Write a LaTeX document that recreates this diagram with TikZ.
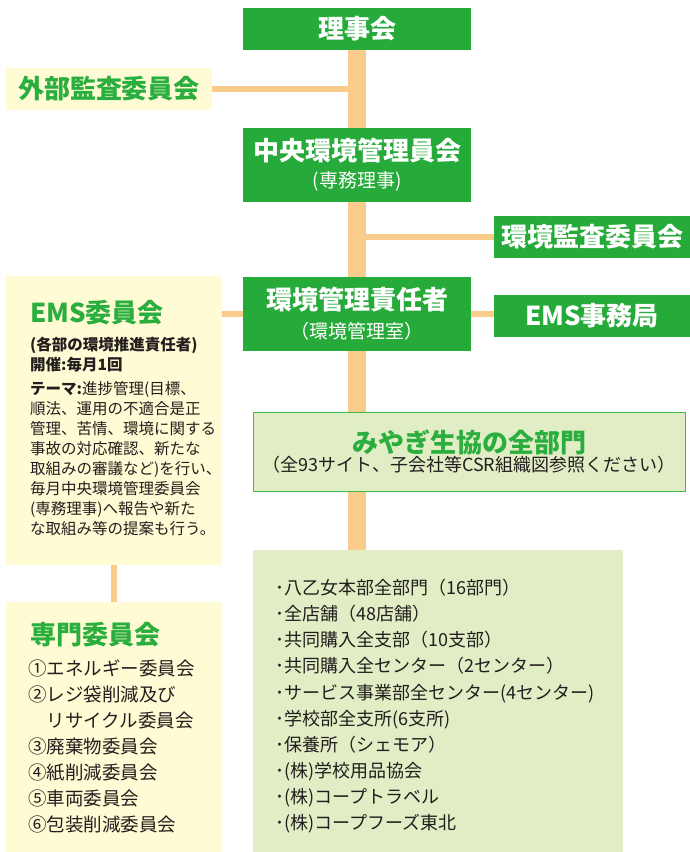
\documentclass[tikz,border=0pt]{standalone}
\usepackage{fontspec}
\setmainfont{Noto Sans CJK JP}
\usepackage{tikz}
\usetikzlibrary{positioning}
\definecolor{boxgreen}{RGB}{38,170,58}
\definecolor{titlegreen}{RGB}{42,174,62}
\definecolor{framegreen}{RGB}{70,185,80}
\definecolor{cream}{RGB}{255,251,212}
\definecolor{palegreen}{RGB}{225,237,197}
\definecolor{linkorange}{RGB}{250,204,140}
\definecolor{inkgray}{RGB}{35,30,30}

\begin{document}
\begin{tikzpicture}[x=1pt,y=-1pt,
        greenbox/.style={fill=boxgreen,text=white,align=center,inner sep=0pt,font=\bfseries\fontsize{26}{27}\selectfont},
        creambox/.style={fill=cream,inner sep=0pt},
        boxtitle/.style={text=titlegreen,inner sep=0pt,font=\bfseries\fontsize{26}{27}\selectfont},
        bodytext/.style={text=inkgray,align=left,inner sep=0pt},
        link/.style={draw=linkorange,line width=5.5pt},
        trunk/.style={draw=linkorange,line width=18pt}]
        \useasboundingbox (0,0) rectangle (690,852);
        \node[greenbox,minimum width=228pt,minimum height=42pt] (riji) at (357,29) {理事会};
        \node[creambox,boxtitle,minimum width=206pt,minimum height=42pt] (gaibu) at (109,89) {外部監査委員会};
        \node[greenbox,minimum width=228pt,minimum height=74pt] (chuo) at (357,165) {中央環境管理員会\\{\mdseries\fontsize{19}{20}\selectfont (専務理事)}};
        \node[greenbox,minimum width=196pt,minimum height=42pt] (kansa) at (592,237) {環境監査委員会};
        \node[greenbox,minimum width=228pt,minimum height=74pt] (sekinin) at (357,314) {環境管理責任者\\[2pt]{\mdseries\fontsize{19}{20}\selectfont （環境管理室）}};
        \node[greenbox,minimum width=196pt,minimum height=42pt] (jimu) at (592,316) {EMS事務局};
        \node[creambox,minimum width=216pt,minimum height=289pt] (emsiin) at (114,420.5) {};
        \node[boxtitle,anchor=west] (emsiintitle) at (30,313) {EMS委員会};
        \node[bodytext,anchor=north west,font=\fontsize{15.5}{20}\selectfont] (emsiinbody) at (30,337) {{\bfseries (各部の環境推進責任者)}\\
                {\bfseries 開催:毎月1回}\\[4pt]
                {\bfseries テーマ:}進捗管理(目標、\\
                順法、運用の不適合是正\\
                管理、苦情、環境に関する\\
                事故の対応確認、新たな\\
                取組みの審議など)を行い、\\
                毎月中央環境管理委員会\\
                (専務理事)へ報告や新た\\
                な取組み等の提案も行う。};
        \node[fill=palegreen,draw=framegreen,line width=1pt,align=center,inner sep=0pt,minimum width=432pt,minimum height=79pt] (miyagi) at (469,451.5) {{\color{titlegreen}\bfseries\fontsize{26}{31}\selectfont みやぎ生協の全部門}\\{\color{inkgray}\fontsize{18}{20}\selectfont （全93サイト、子会社等CSR組織図参照ください）}};
        \node[creambox,minimum width=216pt,minimum height=250pt] (senmon) at (114,727) {};
        \node[boxtitle,anchor=west] (senmontitle) at (30,635) {専門委員会};
        \node[bodytext,anchor=north west,font=\fontsize{18.5}{26}\selectfont] (senmonlist) at (28,660) {①エネルギー委員会\\
                ②レジ袋削減及び\\
                \hspace{1em}リサイクル委員会\\
                ③廃棄物委員会\\
                ④紙削減委員会\\
                ⑤車両委員会\\
                ⑥包装削減委員会};
        \node[fill=palegreen,inner sep=0pt,minimum width=370pt,minimum height=302pt] (bumon) at (438,701) {};
        \node[bodytext,anchor=north west,font=\fontsize{18}{26.1}\selectfont] (bumonlist) at (275,579) {･八乙女本部全部門（16部門）\\
                ･全店舗（48店舗）\\
                ･共同購入全支部（10支部）\\
                ･共同購入全センター（2センター）\\
                ･サービス事業部全センター(4センター)\\
                ･学校部全支所(6支所)\\
                ･保養所（シェモア）\\
                ･(株)学校用品協会\\
                ･(株)コープトラベル\\
                ･(株)コープフーズ東北};
        \draw[link] (gaibu.east) -- (gaibu.east -| riji.south);
        \draw[link] (kansa.west) -- (kansa.west -| chuo.south);
        \draw[link] (emsiin.east |- sekinin.west) -- (sekinin.west);
        \draw[link] (sekinin.east) -- (sekinin.east -| jimu.west);
        \draw[link] (emsiin.south) -- (senmon.north);
        \draw[trunk] (riji.south) -- (chuo.north);
        \draw[trunk] (chuo.south) -- (sekinin.north);
        \draw[trunk] (sekinin.south) -- (sekinin.south |- miyagi.north);
        \draw[trunk] (sekinin.south |- miyagi.south) -- (sekinin.south |- bumon.north);
\end{tikzpicture}
\end{document}
